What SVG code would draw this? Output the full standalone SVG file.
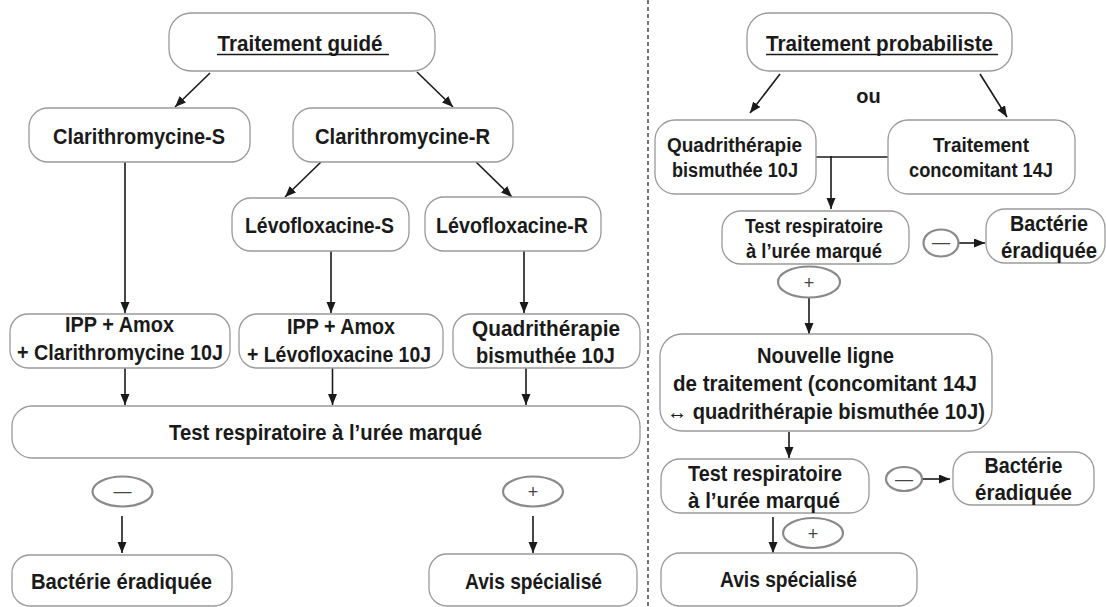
<svg xmlns="http://www.w3.org/2000/svg" width="1106" height="607" viewBox="0 0 1106 607">
<defs>
<marker id="ah" markerUnits="userSpaceOnUse" markerWidth="12" markerHeight="10" refX="11" refY="4.5" orient="auto">
<path d="M0,0 L11,4.5 L0,9 z" fill="#1a1a1a"/>
</marker>
<style>
.box{fill:#fff;stroke:#9a9a9a;stroke-width:1.3}
.el{fill:#fff;stroke:#8a8a8a;stroke-width:2.2}
.t{font-family:"Liberation Sans",Arial,sans-serif;font-weight:bold;font-size:21.5px;fill:#1a1a1a;text-anchor:middle}
.s{font-size:20px}
.sym{font-family:"Liberation Sans",Arial,sans-serif;font-weight:normal;font-size:18px;fill:#444;text-anchor:middle}
.c{stroke:#1a1a1a;stroke-width:1.6;fill:none}
.a{marker-end:url(#ah)}
.ul{stroke:#1a1a1a;stroke-width:1.6}
</style>
</defs>
<rect width="1106" height="607" fill="#fff"/>
<line x1="648" y1="0" x2="648" y2="607" stroke="#1a1a1a" stroke-width="1.2" stroke-dasharray="4 3"/>

<g id="connectors">
<line class="c a" x1="210" y1="73" x2="175" y2="107"/>
<line class="c a" x1="417" y1="72" x2="453" y2="107"/>
<line class="c a" x1="321" y1="162" x2="285" y2="197"/>
<line class="c a" x1="476" y1="162" x2="512" y2="197"/>
<line class="c a" x1="125" y1="162" x2="125" y2="313"/>
<line class="c a" x1="331" y1="251" x2="331" y2="313"/>
<line class="c a" x1="524" y1="251" x2="524" y2="313"/>
<line class="c a" x1="125" y1="368" x2="125" y2="405"/>
<line class="c a" x1="332.5" y1="368" x2="332.5" y2="405"/>
<line class="c a" x1="526" y1="368" x2="526" y2="405"/>
<line class="c a" x1="122" y1="516" x2="122" y2="553"/>
<line class="c a" x1="533" y1="516" x2="533" y2="553"/>
<line class="c a" x1="780" y1="74" x2="750" y2="113"/>
<line class="c a" x1="980" y1="74" x2="1007" y2="117"/>
<line class="c" x1="816" y1="157" x2="888" y2="157"/>
<line class="c a" x1="831" y1="156" x2="831" y2="209"/>
<line class="c a" x1="958" y1="243" x2="985" y2="243"/>
<line class="c a" x1="809" y1="297" x2="809" y2="334"/>
<line class="c a" x1="789" y1="432" x2="789" y2="458"/>
<line class="c a" x1="922" y1="479" x2="950" y2="479"/>
<line class="c a" x1="773" y1="517" x2="773" y2="553"/>
</g>

<g id="traitement-guide">
<rect class="box" x="169" y="13" width="266" height="58" rx="22"/>
<text class="t" x="300" y="51" textLength="165" lengthAdjust="spacingAndGlyphs">Traitement guidé</text>
<line class="ul" x1="217" y1="54.5" x2="389" y2="54.5"/>
</g>
<g id="clari-s">
<rect class="box" x="29" y="108" width="221" height="54" rx="19"/>
<text class="t" x="139" y="144" textLength="172" lengthAdjust="spacingAndGlyphs">Clarithromycine-S</text>
</g>
<g id="clari-r">
<rect class="box" x="293" y="108" width="220" height="54" rx="19"/>
<text class="t" x="402.5" y="144" textLength="175" lengthAdjust="spacingAndGlyphs">Clarithromycine-R</text>
</g>
<g id="levo-s">
<rect class="box" x="232" y="198" width="177" height="53" rx="19"/>
<text class="t" x="319.5" y="233" textLength="149" lengthAdjust="spacingAndGlyphs">Lévofloxacine-S</text>
</g>
<g id="levo-r">
<rect class="box" x="425" y="197" width="176" height="54" rx="19"/>
<text class="t" x="512" y="233" textLength="152" lengthAdjust="spacingAndGlyphs">Lévofloxacine-R</text>
</g>
<g id="ipp-clari">
<rect class="box" x="10" y="314" width="220" height="54" rx="18"/>
<text class="t" x="119.5" y="332" textLength="109" lengthAdjust="spacingAndGlyphs">IPP + Amox</text>
<text class="t" x="120" y="360" textLength="206" lengthAdjust="spacingAndGlyphs">+ Clarithromycine 10J</text>
</g>
<g id="ipp-levo">
<rect class="box" x="239" y="314" width="204" height="54" rx="18"/>
<text class="t" x="341" y="334" textLength="108" lengthAdjust="spacingAndGlyphs">IPP + Amox</text>
<text class="t" x="339" y="362" textLength="184" lengthAdjust="spacingAndGlyphs">+ Lévofloxacine 10J</text>
</g>
<g id="quadri-left">
<rect class="box" x="453" y="314" width="187" height="54" rx="18"/>
<text class="t" x="546" y="336" textLength="148" lengthAdjust="spacingAndGlyphs">Quadrithérapie</text>
<text class="t" x="545.5" y="363" textLength="139" lengthAdjust="spacingAndGlyphs">bismuthée 10J</text>
</g>
<g id="test-left">
<rect class="box" x="12" y="406" width="628" height="52" rx="20"/>
<text class="t" x="325.5" y="440" textLength="313" lengthAdjust="spacingAndGlyphs">Test respiratoire à l’urée marqué</text>
</g>
<g id="neg-left">
<ellipse class="el" cx="122.5" cy="491.5" rx="30" ry="15"/>
<text class="sym" x="122.5" y="497">—</text>
</g>
<g id="pos-left">
<ellipse class="el" cx="533" cy="491.5" rx="30" ry="15"/>
<text class="sym" x="533" y="498">+</text>
</g>
<g id="bacterie-left">
<rect class="box" x="12" y="555" width="220" height="51" rx="18"/>
<text class="t" x="121.5" y="589" textLength="181" lengthAdjust="spacingAndGlyphs">Bactérie éradiquée</text>
</g>
<g id="avis-left">
<rect class="box" x="429" y="554" width="208" height="52" rx="18"/>
<text class="t" x="533.5" y="589" textLength="137" lengthAdjust="spacingAndGlyphs">Avis spécialisé</text>
</g>

<g id="traitement-probabiliste">
<rect class="box" x="747" y="13" width="265" height="58" rx="22"/>
<text class="t" x="879.5" y="51" textLength="227" lengthAdjust="spacingAndGlyphs">Traitement probabiliste</text>
<line class="ul" x1="766" y1="54.5" x2="998" y2="54.5"/>
</g>
<text class="t" x="868.5" y="103" style="font-size:20px">ou</text>
<g id="quadri-right">
<rect class="box" x="655" y="120" width="161" height="74" rx="20"/>
<text class="t s" x="734.5" y="152" textLength="135" lengthAdjust="spacingAndGlyphs">Quadrithérapie</text>
<text class="t s" x="735" y="177" textLength="126" lengthAdjust="spacingAndGlyphs">bismuthée 10J</text>
</g>
<g id="concomitant">
<rect class="box" x="888" y="120" width="187" height="74" rx="20"/>
<text class="t s" x="981" y="152" textLength="96" lengthAdjust="spacingAndGlyphs">Traitement</text>
<text class="t s" x="981" y="177" textLength="144" lengthAdjust="spacingAndGlyphs">concomitant 14J</text>
</g>
<g id="test-right-1">
<rect class="box" x="722" y="211" width="187" height="53" rx="19"/>
<text class="t s" x="814" y="233" textLength="138" lengthAdjust="spacingAndGlyphs">Test respiratoire</text>
<text class="t s" x="814" y="258" textLength="136" lengthAdjust="spacingAndGlyphs">à l’urée marqué</text>
</g>
<g id="neg-right-1">
<ellipse class="el" cx="941" cy="243" rx="17.5" ry="13.5"/>
<text class="sym" x="941" y="248">—</text>
</g>
<g id="bacterie-right-1">
<rect class="box" x="986" y="209" width="119" height="54" rx="19"/>
<text class="t" x="1049" y="231" textLength="78" lengthAdjust="spacingAndGlyphs">Bactérie</text>
<text class="t" x="1049" y="258" textLength="96" lengthAdjust="spacingAndGlyphs">éradiquée</text>
</g>
<g id="pos-right-1">
<ellipse class="el" cx="809" cy="282" rx="31" ry="15.5"/>
<text class="sym" x="809" y="289">+</text>
</g>
<g id="nouvelle-ligne">
<rect class="box" x="660" y="334" width="332" height="97" rx="22"/>
<text class="t" x="825.5" y="363" textLength="137" lengthAdjust="spacingAndGlyphs">Nouvelle ligne</text>
<text class="t" x="825" y="391" textLength="304" lengthAdjust="spacingAndGlyphs">de traitement (concomitant 14J</text>
<text class="t" x="826" y="419" textLength="318" lengthAdjust="spacingAndGlyphs">↔ quadrithérapie bismuthée 10J)</text>
</g>
<g id="test-right-2">
<rect class="box" x="661" y="459" width="208" height="54" rx="19"/>
<text class="t" x="765" y="481" textLength="154" lengthAdjust="spacingAndGlyphs">Test respiratoire</text>
<text class="t" x="764" y="508" textLength="152" lengthAdjust="spacingAndGlyphs">à l’urée marqué</text>
</g>
<g id="neg-right-2">
<ellipse class="el" cx="904" cy="479" rx="18" ry="12"/>
<text class="sym" x="904" y="485">—</text>
</g>
<g id="bacterie-right-2">
<rect class="box" x="953" y="452" width="141" height="53" rx="19"/>
<text class="t" x="1023.5" y="473" textLength="78" lengthAdjust="spacingAndGlyphs">Bactérie</text>
<text class="t" x="1023.5" y="500" textLength="97" lengthAdjust="spacingAndGlyphs">éradiquée</text>
</g>
<g id="pos-right-2">
<ellipse class="el" cx="813" cy="533" rx="30" ry="15"/>
<text class="sym" x="813" y="540">+</text>
</g>
<g id="avis-right">
<rect class="box" x="661" y="553" width="256" height="53" rx="19"/>
<text class="t" x="788.5" y="587" textLength="137" lengthAdjust="spacingAndGlyphs">Avis spécialisé</text>
</g>
</svg>
